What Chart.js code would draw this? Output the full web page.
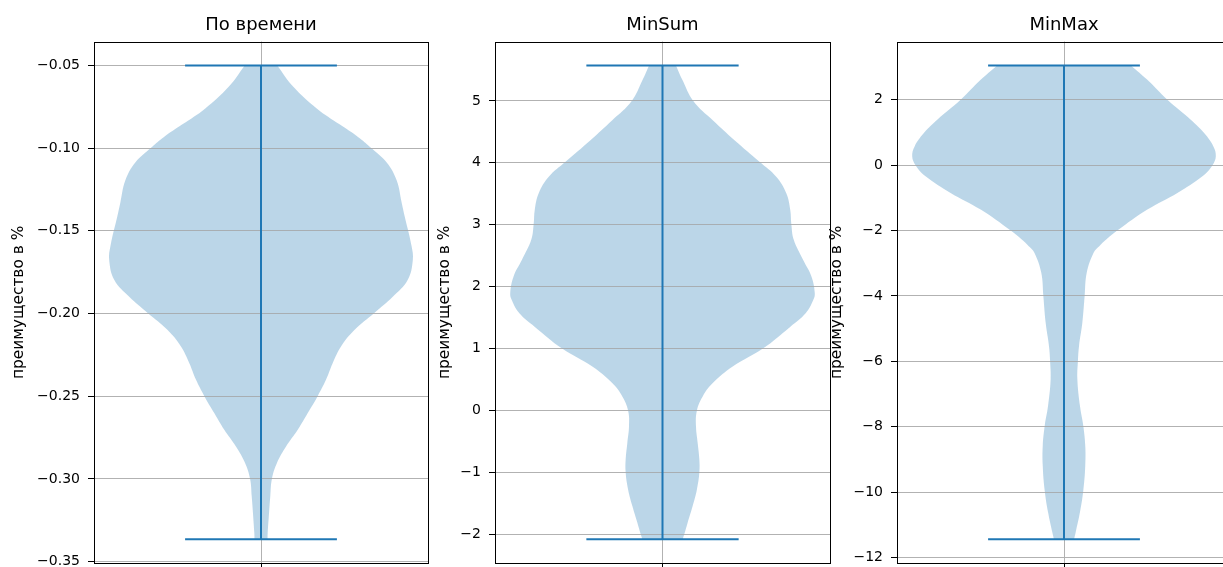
<!DOCTYPE html>
<html>
<head>
<meta charset="utf-8">
<script src="https://cdn.jsdelivr.net/npm/chart.js@4.4.1/dist/chart.umd.min.js"></script>
<style>
    html, body { margin: 0; padding: 0; background: #fff; width: 1223px; height: 567px; overflow: hidden; position: relative; }
    canvas { position: absolute; top: 0; }
</style>
</head>
<body>
<canvas id="time" width="440" height="600" style="left:0px"></canvas>
<canvas id="minsum" width="425" height="600" style="left:425px"></canvas>
<canvas id="minmax" width="440" height="600" style="left:820px"></canvas>
<script>
// По времени: y values (top to bottom) and relative violin width at each
const timeY = [-0.05, -0.0629, -0.076, -0.0858, -0.0934, -0.0993, -0.1087, -0.1196, -0.1327, -0.1415,
    -0.1589, -0.1677, -0.1798, -0.1899, -0.1997, -0.21, -0.22, -0.2301, -0.2401, -0.2498, -0.2602,
    -0.2703, -0.2804, -0.2904, -0.2999, -0.3106, -0.3206, -0.3327, -0.3365];
const timeWidth = [0.107, 0.213, 0.367, 0.52, 0.641, 0.718, 0.828, 0.894, 0.926, 0.947,
    0.991, 1.0, 0.966, 0.868, 0.746, 0.615, 0.527, 0.472, 0.428, 0.374, 0.308,
    0.242, 0.165, 0.105, 0.072, 0.061, 0.053, 0.044, 0.043];
const timeTicks = [-0.35, -0.30, -0.25, -0.20, -0.15, -0.10, -0.05];
const timeTickLabels = ['−0.35', '−0.30', '−0.25', '−0.20', '−0.15', '−0.10', '−0.05'];

// MinSum
const minSumY = [5.574, 5.333, 5.0, 4.689, 4.367, 4.018, 3.776, 3.509, 3.24, 3.014, 2.757, 2.435, 2.166,
    1.899, 1.784, 1.57, 1.354, 1.0, 0.71, 0.443, 0.227, 0.0, -0.256, -0.523, -0.792, -0.997,
    -1.275, -1.544, -1.812, -2.0, -2.08];
const minSumWidth = [0.088, 0.132, 0.202, 0.33, 0.473, 0.637, 0.747, 0.813, 0.839, 0.846, 0.862, 0.923, 0.978,
    1.0, 0.99, 0.94, 0.84, 0.659, 0.461, 0.33, 0.264, 0.226, 0.22, 0.231, 0.242, 0.242,
    0.226, 0.198, 0.165, 0.143, 0.132];
const minSumTicks = [-2, -1, 0, 1, 2, 3, 4, 5];
const minSumTickLabels = ['−2', '−1', '0', '1', '2', '3', '4', '5'];

// MinMax
const minMaxY = [3.05, 2.611, 2.0, 1.389, 0.983, 0.574, 0.269, 0.0, -0.342, -0.849, -1.359, -2.0, -2.269,
    -2.479, -2.675, -3.285, -4.0, -4.812, -5.527, -5.954, -6.544, -7.359, -7.969, -8.58, -9.191,
    -9.954, -10.614, -11.224, -11.44];
const minMaxWidth = [0.44, 0.549, 0.681, 0.835, 0.923, 0.984, 1.0, 0.978, 0.912, 0.747, 0.549, 0.351, 0.28,
    0.232, 0.195, 0.15, 0.136, 0.121, 0.099, 0.092, 0.088, 0.105, 0.127, 0.14, 0.14,
    0.127, 0.105, 0.077, 0.066];
const minMaxTicks = [-12, -10, -8, -6, -4, -2, 0, 2];
const minMaxTickLabels = ['−12', '−10', '−8', '−6', '−4', '−2', '0', '2'];

const yLabel = 'преимущество в %';
const blue = '#1f77b4';
const font = 'DejaVu Sans';

// frame around the plot area, like matplotlib spines
const frame = {
    id: 'frame',
    afterDatasetDraw(chart, args) {
        // grid sits above the violin body but under the lines
        if (args.index === 0) {
            chart.scales.x.drawGrid(chart.chartArea);
            chart.scales.y.drawGrid(chart.chartArea);
        }
    },
    afterDraw(chart) {
        const { ctx, chartArea: a } = chart;
        ctx.save();
        ctx.strokeStyle = '#000';
        ctx.lineWidth = 1;
        ctx.strokeRect(Math.round(a.left) + 0.5, Math.round(a.top) + 0.5,
            Math.round(a.right - a.left), Math.round(a.bottom - a.top));
        ctx.restore();
    }
};

function violinChart(id, title, ys, widths, ticks, tickLabels, box) {
    const top = ys[0];
    const bottom = ys[ys.length - 1];
    const margin = (top - bottom) * 0.05;

    const right = ys.map((y, i) => ({ x: 1 + 0.25 * widths[i], y: y }));
    const left = ys.map((y, i) => ({ x: 1 - 0.25 * widths[i], y: y })).reverse();
    // repeat the bottom corners so the smoothing keeps the base flat
    const outline = [...right, right[right.length - 1], left[0], ...left];

    const line = (pts) => ({
        data: pts,
        borderColor: blue,
        borderWidth: 2,
        pointRadius: 0,
        fill: false,
        tension: 0
    });

    const grid = { color: '#b0b0b0', lineWidth: 0.8, tickLength: 6, tickColor: '#000', tickWidth: 1 };

    new Chart(document.getElementById(id), {
        type: 'line',
        data: {
            datasets: [
                {
                    data: outline,
                    fill: 'shape',
                    backgroundColor: 'rgba(31,119,180,0.3)',
                    borderColor: 'rgba(0,0,0,0)',
                    borderWidth: 0,
                    pointRadius: 0,
                    tension: 0.4,
                    order: 1
                },
                line([{ x: 1, y: bottom }, { x: 1, y: top }]),
                line([{ x: 0.875, y: top }, { x: 1.125, y: top }]),
                line([{ x: 0.875, y: bottom }, { x: 1.125, y: bottom }])
            ]
        },
        options: {
            responsive: false,
            animation: false,
            events: [],
            layout: { padding: { left: 0, right: box.padRight, top: 0, bottom: 0 } },
            plugins: {
                legend: { display: false },
                tooltip: { enabled: false },
                title: {
                    display: true,
                    text: title,
                    fullSize: false,
                    color: '#000',
                    font: { family: font, size: 18, weight: 'normal' },
                    padding: { top: 14.7, bottom: 5.4 }
                }
            },
            scales: {
                x: {
                    type: 'linear',
                    min: 0.725,
                    max: 1.275,
                    afterBuildTicks: s => { s.ticks = [{ value: 1 }]; },
                    afterFit: s => { s.height = 37; },
                    ticks: { display: false },
                    grid: grid,
                    border: { display: false }
                },
                y: {
                    type: 'linear',
                    min: bottom - margin,
                    max: top + margin,
                    afterBuildTicks: s => { s.ticks = ticks.map(v => ({ value: v })); },
                    afterFit: s => { s.width = box.yWidth; },
                    ticks: {
                        autoSkip: false,
                        padding: 8,
                        color: '#000',
                        font: { family: font, size: 14 },
                        callback: (v, i) => tickLabels[i]
                    },
                    grid: grid,
                    border: { display: false },
                    title: {
                        display: true,
                        text: yLabel,
                        color: '#000',
                        font: { family: font, size: 15.4 },
                        padding: { top: box.labelPad, bottom: 0 }
                    }
                }
            }
        },
        plugins: [frame]
    });
}

violinChart('time', 'По времени', timeY, timeWidth, timeTicks, timeTickLabels,
    { yWidth: 94, padRight: 12, labelPad: 10 });
violinChart('minsum', 'MinSum', minSumY, minSumWidth, minSumTicks, minSumTickLabels,
    { yWidth: 70, padRight: 20, labelPad: 10.8 });
violinChart('minmax', 'MinMax', minMaxY, minMaxWidth, minMaxTicks, minMaxTickLabels,
    { yWidth: 77, padRight: 29, labelPad: 7.8 });
</script>
</body>
</html>
